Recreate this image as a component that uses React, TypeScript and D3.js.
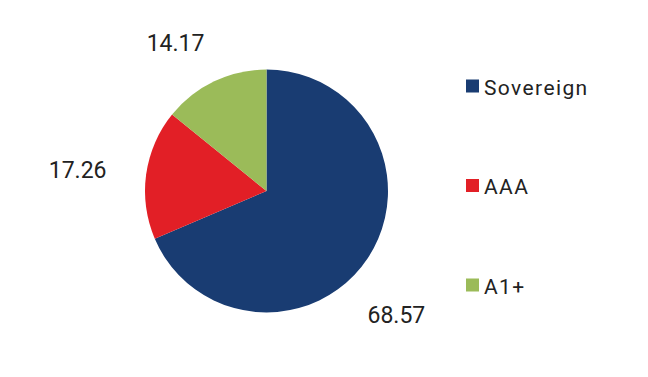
import React from "react";
import * as d3 from "d3";

const categories = ["Sovereign", "AAA", "A1+"];
const values = [68.57, 17.26, 14.17];
const colors = ["#193c72", "#e21f26", "#9bbb59"];

export default function App() {
  const width = 648, height = 377;
  const cx = 266.5, cy = 191, r = 121.5;
  const pie = d3.pie<number>().sort(null).value((d) => d)(values);
  const arc = d3.arc<d3.PieArcDatum<number>>().innerRadius(0).outerRadius(r);
  // label placement (outside-end, best fit): angular shift (deg) and radius per slice
  const labelShift = [10.4, -1.6, -6.2];
  const labelRadius = [180, 190, 173];
  const legendY = d3.scalePoint<string>().domain(categories).range([86, 285]);
  return (
    <svg width={width} height={height} style={{ position: "absolute", left: 0, top: 0, fontFamily: "Roboto, sans-serif" }}>
      <rect width={width} height={height} fill="#fff" />
      <g transform={`translate(${cx},${cy})`}>
        {pie.map((p, i) => (
          <path key={i} d={arc(p) || ""} fill={colors[i]} />
        ))}
        {pie.map((p, i) => {
          const a = (p.startAngle + p.endAngle) / 2 + (labelShift[i] * Math.PI) / 180;
          const x = Math.sin(a) * labelRadius[i];
          const y = -Math.cos(a) * labelRadius[i];
          return (
            <text key={"l" + i} x={x} y={y} textAnchor="middle" dominantBaseline="central" fontSize={23} fill="#222">
              {values[i].toFixed(2)}
            </text>
          );
        })}
      </g>
      {categories.map((c, i) => (
        <g key={c} transform={`translate(466,${legendY(c)})`}>
          <rect x={0} y={-6.5} width={13} height={13} fill={colors[i]} />
          <text x={18} y={1.5} dominantBaseline="central" fontSize={21} fill="#222" letterSpacing={1.4}>
            {c}
          </text>
        </g>
      ))}
    </svg>
  );
}
